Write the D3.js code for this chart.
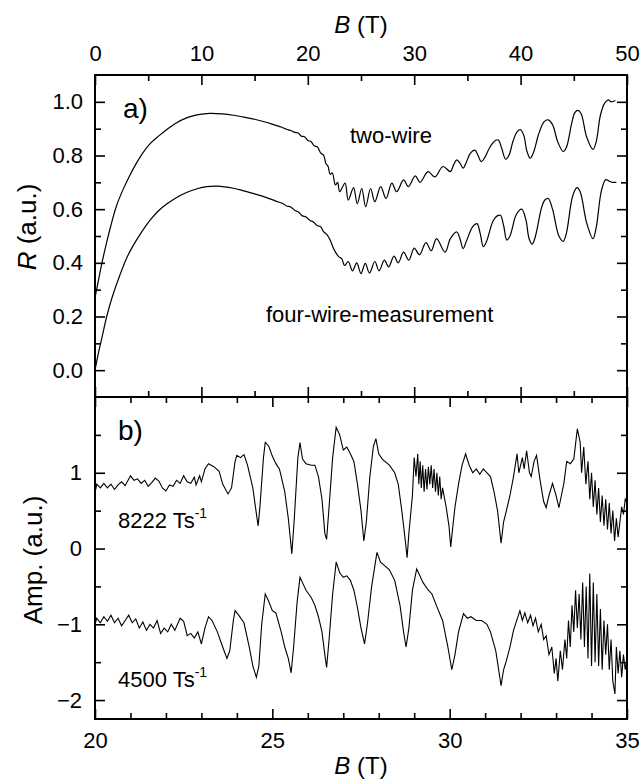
<!DOCTYPE html>
<html lang="en">
<head>
<meta charset="UTF-8">
<title>R and Amp. vs B</title>
<script src="https://d3js.org/d3.v7.min.js"></script>
<style>
  body { margin: 0; background: #fff; }
  text { font-family: "Liberation Sans", Arial, sans-serif; fill: #000; }
</style>
</head>
<body>
<div id="chart"></div>
<script>
// ---- data ----
// panel a: B (T), R (a.u.)
var twoWire = [[0,0.27],[0.3,0.33],[0.6,0.39],[1.0,0.46],[1.5,0.54],[2.0,0.61],[2.6,0.67],[3.2,0.72],
  [3.8,0.765],[4.5,0.81],[5.2,0.845],[6.0,0.873],[6.7,0.895],[7.6,0.92],[8.6,0.94],[9.7,0.952],
  [10.8,0.957],[12,0.955],[13,0.95],[14,0.943],[15,0.935],[16,0.925],
  [17,0.912],[17.5,0.906],[18,0.898],[18.4,0.893],[18.8,0.886],[19.1,0.884],[19.4,0.872],[19.7,0.870],
  [20.0,0.856],[20.3,0.852],[20.6,0.836],[20.9,0.832],[21.2,0.81],[21.5,0.80],[21.7,0.77],[21.9,0.76],
  [22.1,0.73],[22.3,0.735],[22.6,0.69],[22.8,0.70],[23.0,0.665],[23.5,0.697],[23.8,0.634],[24.3,0.68],
  [24.65,0.62],[25.07,0.677],[25.44,0.609],[25.9,0.677],[26.3,0.628],[26.85,0.684],[27.35,0.64],
  [27.9,0.697],[28.35,0.665],[29.0,0.709],[29.45,0.684],[30.1,0.724],[30.55,0.70],[31.3,0.74],
  [31.95,0.72],[32.7,0.759],[33.4,0.74],[33.7,0.765],[34.0,0.784],[34.3,0.772],[34.6,0.753],
  [34.9,0.775],[35.3,0.81],[35.7,0.82],[36.0,0.80],[36.3,0.777],[36.6,0.79],[37.1,0.83],[37.6,0.855],
  [37.9,0.858],[38.2,0.83],[38.6,0.786],[38.9,0.80],[39.3,0.855],[39.7,0.89],[40.0,0.896],[40.3,0.875],
  [40.6,0.815],[40.9,0.79],[41.2,0.81],[41.7,0.88],[42.2,0.925],[42.6,0.933],[43.0,0.915],[43.5,0.85],
  [44.0,0.815],[44.3,0.83],[44.8,0.92],[45.1,0.96],[45.4,0.968],[45.7,0.955],[46.2,0.87],[46.8,0.823],
  [47.1,0.85],[47.5,0.95],[47.9,0.995],[48.25,1.007],[48.5,1.0],[48.9,1.005]];

var fourWire = [[0,0.0],[0.3,0.06],[0.7,0.13],[1.1,0.2],[1.6,0.27],[2.3,0.35],[3.0,0.42],[3.6,0.465],
  [4.3,0.51],[5.2,0.56],[6.0,0.595],[6.7,0.618],[7.6,0.642],[8.6,0.662],[9.6,0.676],[10.5,0.684],
  [11.5,0.686],[13,0.678],[14,0.668],
  [15,0.657],[16,0.645],[17,0.63],[17.6,0.622],[18.0,0.612],[18.4,0.608],[18.8,0.595],[19.1,0.59],
  [19.5,0.575],[19.8,0.572],[20.2,0.558],[20.5,0.553],[20.9,0.538],[21.2,0.535],[21.5,0.515],
  [21.8,0.505],[22.1,0.485],[22.4,0.455],[22.6,0.44],[22.9,0.423],[23.2,0.415],[23.45,0.39],
  [23.8,0.405],[24.2,0.37],[24.6,0.40],[25.0,0.36],[25.4,0.398],[25.8,0.362],[26.3,0.405],[26.7,0.37],
  [27.2,0.41],[27.6,0.385],[28.1,0.425],[28.5,0.40],[29.0,0.44],[29.5,0.41],[30.0,0.455],[30.5,0.43],
  [31.1,0.475],[31.6,0.445],[32.1,0.49],[32.9,0.44],[33.4,0.49],[34.0,0.515],[34.3,0.49],[34.6,0.453],
  [34.9,0.48],[35.5,0.535],[35.9,0.546],[36.2,0.51],[36.5,0.46],[36.8,0.48],[37.4,0.555],[37.8,0.575],
  [38.1,0.577],[38.4,0.54],[38.7,0.485],[39.0,0.50],[39.6,0.58],[40.1,0.60],[40.5,0.56],[40.8,0.49],
  [41.1,0.47],[41.4,0.50],[42.0,0.61],[42.3,0.635],[42.6,0.64],[43.0,0.60],[43.6,0.50],[44.0,0.48],
  [44.3,0.51],[44.9,0.65],[45.3,0.68],[45.6,0.665],[46.2,0.55],[46.8,0.49],[47.1,0.53],[47.6,0.67],
  [48.0,0.71],[48.3,0.705],[48.6,0.70],[49.0,0.70]];

// panel b: B (T), Amp. (a.u.)
var amp8222 = [[20.0,0.73],[20.05,0.85],[20.15,0.80],[20.25,0.86],[20.35,0.80],[20.45,0.85],[20.55,0.78],
  [20.65,0.84],[20.75,0.88],[20.85,0.83],[21.0,0.96],[21.1,0.90],[21.2,0.92],[21.3,0.86],[21.4,0.90],
  [21.5,0.82],[21.6,0.87],[21.7,0.93],[21.8,0.89],[21.9,0.80],[22.0,0.76],[22.1,0.84],[22.2,0.82],
  [22.3,0.90],[22.4,0.86],[22.5,0.96],[22.6,0.88],[22.7,0.86],[22.8,0.94],[22.85,0.84],[22.95,0.96],
  [23.0,0.88],[23.1,1.05],[23.2,1.12],[23.35,1.08],[23.5,1.02],[23.6,0.85],[23.75,0.72],[23.85,0.80],
  [23.95,1.15],[24.0,1.23],[24.1,1.20],[24.2,1.24],[24.3,1.10],[24.45,0.80],[24.55,0.46],[24.6,0.30],
  [24.65,0.55],[24.75,1.20],[24.8,1.40],[24.9,1.35],[25.0,1.22],[25.1,1.12],[25.2,1.05],[25.35,0.75],
  [25.45,0.40],[25.55,-0.07],[25.62,0.40],[25.72,1.20],[25.78,1.40],[25.85,1.18],[25.95,1.12],
  [26.1,1.10],[26.2,1.10],[26.3,0.95],[26.4,0.65],[26.48,0.20],[26.53,0.12],[26.6,0.55],[26.7,1.20],
  [26.8,1.60],[26.9,1.50],[27.0,1.30],[27.1,1.34],[27.2,1.25],[27.3,1.15],[27.4,0.85],[27.5,0.50],
  [27.58,0.10],[27.65,0.35],[27.75,0.95],[27.85,1.35],[27.92,1.45],[28.0,1.25],[28.1,1.18],[28.3,1.10],
  [28.45,1.00],[28.55,0.85],[28.65,0.50],[28.75,0.10],[28.8,-0.12],[28.85,0.20],[28.95,0.70],[29.0,1.20],
  [29.05,0.95],[29.1,1.25],[29.13,0.85],[29.17,1.15],[29.2,0.80],[29.24,1.10],[29.28,0.75],[29.32,1.05],
  [29.36,0.78],[29.4,1.08],[29.44,0.85],[29.48,1.10],[29.52,0.80],[29.56,1.05],[29.6,0.75],[29.64,1.00],
  [29.68,0.70],[29.72,0.95],[29.76,0.65],[29.8,0.80],[29.9,0.55],[29.98,0.30],[30.03,0.02],[30.08,0.25],
  [30.15,0.55],[30.25,0.85],[30.35,1.10],[30.45,1.25],[30.55,1.10],[30.65,1.00],[30.75,1.05],[30.85,0.98],
  [30.95,1.05],[31.05,1.00],[31.15,0.95],[31.25,0.75],[31.35,0.50],[31.45,0.07],[31.52,0.35],[31.6,0.50],
  [31.7,0.70],[31.8,0.95],[31.9,1.25],[31.95,1.00],[32.05,1.20],[32.1,1.05],[32.17,1.29],[32.25,1.00],
  [32.3,0.95],[32.38,1.15],[32.45,1.23],[32.55,0.90],[32.65,0.62],[32.72,0.54],[32.8,0.70],[32.9,0.86],
  [33.0,0.70],[33.08,0.54],[33.15,0.70],[33.22,0.86],[33.3,1.15],[33.4,1.12],[33.5,1.18],[33.6,1.58],
  [33.68,1.40],[33.72,1.00],[33.78,1.34],[33.84,0.85],[33.9,1.15],[33.95,0.65],[34.0,1.00],[34.05,0.55],
  [34.1,0.90],[34.15,0.45],[34.2,0.80],[34.25,0.35],[34.3,0.70],[34.35,0.30],[34.4,0.65],[34.45,0.25],
  [34.5,0.60],[34.55,0.20],[34.6,0.50],[34.65,0.10],[34.7,0.40],[34.75,0.15],[34.8,0.35],[34.85,0.55],
  [34.9,0.45],[34.95,0.65],[35.0,0.60]];

var amp4500 = [[20.0,-1.00],[20.05,-0.92],[20.15,-0.98],[20.25,-0.90],[20.35,-0.96],[20.45,-0.88],
  [20.55,-0.98],[20.65,-0.92],[20.75,-1.02],[20.85,-0.95],[20.95,-0.88],[21.05,-0.98],[21.15,-0.93],
  [21.25,-1.05],[21.35,-0.97],[21.45,-1.08],[21.55,-1.00],[21.65,-1.05],[21.75,-0.95],[21.85,-1.12],
  [21.95,-1.05],[22.05,-1.10],[22.15,-1.0],[22.25,-1.08],[22.4,-0.92],[22.5,-0.96],[22.6,-1.15],
  [22.7,-1.12],[22.8,-1.18],[22.9,-1.10],[23.0,-1.26],[23.1,-1.05],[23.2,-0.90],[23.3,-0.95],
  [23.45,-1.10],[23.6,-1.30],[23.72,-1.45],[23.8,-1.35],[23.9,-0.95],[23.95,-0.82],[24.05,-0.88],
  [24.2,-0.98],[24.35,-1.30],[24.45,-1.55],[24.55,-1.70],[24.62,-1.55],[24.7,-1.00],[24.8,-0.60],
  [24.9,-0.70],[25.0,-0.82],[25.1,-0.85],[25.25,-1.10],[25.35,-1.30],[25.45,-1.45],[25.53,-1.64],
  [25.6,-1.30],[25.7,-0.70],[25.78,-0.38],[25.85,-0.45],[25.95,-0.55],[26.1,-0.65],[26.2,-0.75],
  [26.3,-0.90],[26.4,-1.10],[26.48,-1.40],[26.53,-1.57],[26.6,-1.20],[26.7,-0.60],[26.8,-0.18],
  [26.9,-0.32],[27.0,-0.38],[27.1,-0.36],[27.2,-0.42],[27.3,-0.55],[27.4,-0.78],[27.5,-1.05],
  [27.6,-1.26],[27.68,-1.00],[27.8,-0.50],[27.95,-0.05],[28.05,-0.18],[28.15,-0.22],[28.3,-0.28],
  [28.45,-0.42],[28.6,-0.75],[28.7,-1.10],[28.77,-1.30],[28.85,-1.05],[28.95,-0.55],[29.07,-0.27],
  [29.15,-0.35],[29.25,-0.45],[29.4,-0.55],[29.5,-0.60],[29.65,-0.78],[29.8,-0.95],[29.95,-1.30],
  [30.06,-1.60],[30.15,-1.40],[30.25,-1.10],[30.39,-0.86],[30.5,-0.92],[30.6,-0.90],[30.75,-0.95],
  [30.9,-0.95],[31.05,-1.00],[31.15,-1.10],[31.3,-1.35],[31.45,-1.81],[31.52,-1.60],[31.6,-1.48],
  [31.7,-1.30],[31.8,-1.08],[31.98,-0.82],[32.05,-0.95],[32.12,-0.85],[32.2,-0.98],[32.28,-0.88],
  [32.35,-1.02],[32.42,-0.92],[32.5,-1.10],[32.58,-1.00],[32.65,-1.20],[32.72,-1.15],[32.8,-1.40],
  [32.88,-1.30],[32.95,-1.65],[33.0,-1.45],[33.05,-1.75],[33.12,-1.35],[33.18,-1.60],[33.25,-1.20],
  [33.3,-1.45],[33.35,-0.95],[33.4,-1.30],[33.45,-0.75],[33.5,-1.10],[33.55,-0.55],[33.6,-1.05],
  [33.65,-0.60],[33.7,-1.20],[33.75,-0.45],[33.8,-1.30],[33.85,-0.50],[33.9,-1.45],[33.95,-0.33],
  [34.0,-1.55],[34.05,-0.45],[34.1,-1.50],[34.15,-0.60],[34.2,-1.55],[34.25,-0.80],[34.3,-1.60],
  [34.35,-0.95],[34.4,-1.40],[34.45,-1.00],[34.5,-1.60],[34.55,-1.20],[34.6,-1.75],[34.66,-1.92],
  [34.7,-1.30],[34.75,-1.65],[34.8,-1.35],[34.85,-1.70],[34.9,-1.40],[34.95,-1.60],[35.0,-1.45]];

// ticks
var topTicks = [0, 10, 20, 30, 40, 50];
var topMinor = [5, 15, 25, 35, 45];
var rTicks = [0, 0.2, 0.4, 0.6, 0.8, 1.0];
var rMinor = [0.1, 0.3, 0.5, 0.7, 0.9];
var bTicks = [20, 25, 30, 35];
var bMinor = [21, 22, 23, 24, 26, 27, 28, 29, 31, 32, 33, 34];
var ampTicks = [-2, -1, 0, 1];
var ampMinor = [-1.5, -0.5, 0.5, 1.5];

// ---- layout ----
var width = 642, height = 780;
var x0 = 95, x1 = 627;
var aTop = 75, mid = 397, bBot = 719;

var svg = d3.select("#chart").append("svg")
  .attr("width", width).attr("height", height);
svg.append("rect").attr("width", width).attr("height", height).attr("fill", "#fff");

var xA = d3.scaleLinear().domain([0, 50]).range([x0, x1]);
var yA = d3.scaleLinear().domain([-0.1, 1.1]).range([mid, aTop]);
var xB = d3.scaleLinear().domain([20, 35]).range([x0, x1]);
var yB = d3.scaleLinear().domain([-2.25, 2]).range([bBot, mid]);

function axis(gen, scale, vals, len, fmt, tx, ty, pad) {
  var a = gen(scale).tickValues(vals).tickSizeInner(-len).tickSizeOuter(0).tickPadding(pad || 8);
  a.tickFormat(fmt ? fmt : "");
  var g = svg.append("g").attr("transform", "translate(" + tx + "," + ty + ")").call(a);
  g.select(".domain").remove();
  g.selectAll("line").attr("stroke", "#000").attr("stroke-width", 1.6);
  g.selectAll("text").attr("font-size", 22).attr("fill", "#000")
    .attr("font-family", "Liberation Sans, Arial, sans-serif");
  return g;
}

// panel a axes
axis(d3.axisTop, xA, topTicks, 10, d3.format("d"), 0, aTop, 14);
axis(d3.axisTop, xA, topMinor, 6, null, 0, aTop);
axis(d3.axisBottom, xA, topTicks, 10, null, 0, mid);
axis(d3.axisBottom, xA, topMinor, 6, null, 0, mid);
axis(d3.axisLeft, yA, rTicks, 10, d3.format(".1f"), x0, 0, 12);
axis(d3.axisLeft, yA, rMinor, 6, null, x0, 0);
axis(d3.axisRight, yA, rTicks, 10, null, x1, 0);
axis(d3.axisRight, yA, rMinor, 6, null, x1, 0);

// panel b axes
axis(d3.axisTop, xB, bTicks, 10, null, 0, mid);
axis(d3.axisTop, xB, bMinor, 6, null, 0, mid);
axis(d3.axisBottom, xB, bTicks, 10, d3.format("d"), 0, bBot, 13);
axis(d3.axisBottom, xB, bMinor, 6, null, 0, bBot);
axis(d3.axisLeft, yB, ampTicks, 10, d3.format("d"), x0, 0, 13);
axis(d3.axisLeft, yB, ampMinor, 6, null, x0, 0);
axis(d3.axisRight, yB, ampTicks, 10, null, x1, 0);
axis(d3.axisRight, yB, ampMinor, 6, null, x1, 0);

// clips
var defs = svg.append("defs");
defs.append("clipPath").attr("id", "clipA").append("rect")
  .attr("x", x0).attr("y", aTop).attr("width", x1 - x0).attr("height", mid - aTop);
defs.append("clipPath").attr("id", "clipB").append("rect")
  .attr("x", x0).attr("y", mid).attr("width", x1 - x0).attr("height", bBot - mid);

var lineA = d3.line().x(function(d) { return xA(d[0]); }).y(function(d) { return yA(d[1]); })
  .curve(d3.curveCatmullRom.alpha(0.5));
var lineB = d3.line().x(function(d) { return xB(d[0]); }).y(function(d) { return yB(d[1]); });

[twoWire, fourWire].forEach(function(s) {
  svg.append("path").datum(s).attr("d", lineA).attr("clip-path", "url(#clipA)")
    .attr("fill", "none").attr("stroke", "#000").attr("stroke-width", 1.2);
});
[amp8222, amp4500].forEach(function(s) {
  svg.append("path").datum(s).attr("d", lineB).attr("clip-path", "url(#clipB)")
    .attr("fill", "none").attr("stroke", "#000").attr("stroke-width", 1.1);
});

// frames
svg.append("rect").attr("x", x0).attr("y", aTop).attr("width", x1 - x0).attr("height", bBot - aTop)
  .attr("fill", "none").attr("stroke", "#000").attr("stroke-width", 2);
svg.append("line").attr("x1", x0).attr("x2", x1).attr("y1", mid).attr("y2", mid)
  .attr("stroke", "#000").attr("stroke-width", 2);

// axis titles
var tTop = svg.append("text").attr("x", (x0 + x1) / 2).attr("y", 33).attr("text-anchor", "middle")
  .attr("font-size", 24);
tTop.append("tspan").attr("font-style", "italic").text("B");
tTop.append("tspan").text(" (T)");
var tBot = svg.append("text").attr("x", (x0 + x1) / 2).attr("y", 774).attr("text-anchor", "middle")
  .attr("font-size", 24);
tBot.append("tspan").attr("font-style", "italic").text("B");
tBot.append("tspan").text(" (T)");

var tR = svg.append("text").attr("transform", "translate(36,227) rotate(-90)")
  .attr("text-anchor", "middle").attr("font-size", 26);
tR.append("tspan").attr("font-style", "italic").text("R");
tR.append("tspan").text(" (a.u.)");
svg.append("text").attr("transform", "translate(42,560) rotate(-90)")
  .attr("text-anchor", "middle").attr("font-size", 26).text("Amp. (a.u.)");

// annotations
svg.append("text").attr("x", 123).attr("y", 118).attr("font-size", 28).text("a)");
svg.append("text").attr("x", 118).attr("y", 440).attr("font-size", 28).text("b)");
svg.append("text").attr("x", 350).attr("y", 143).attr("font-size", 22).text("two-wire");
svg.append("text").attr("x", 266).attr("y", 322).attr("font-size", 22).text("four-wire-measurement");

var t1 = svg.append("text").attr("x", 118).attr("y", 528).attr("font-size", 22);
t1.append("tspan").text("8222 Ts");
t1.append("tspan").attr("font-size", 14).attr("dy", -10).text("-1");
var t2 = svg.append("text").attr("x", 118).attr("y", 687).attr("font-size", 22);
t2.append("tspan").text("4500 Ts");
t2.append("tspan").attr("font-size", 14).attr("dy", -10).text("-1");
</script>
</body>
</html>
